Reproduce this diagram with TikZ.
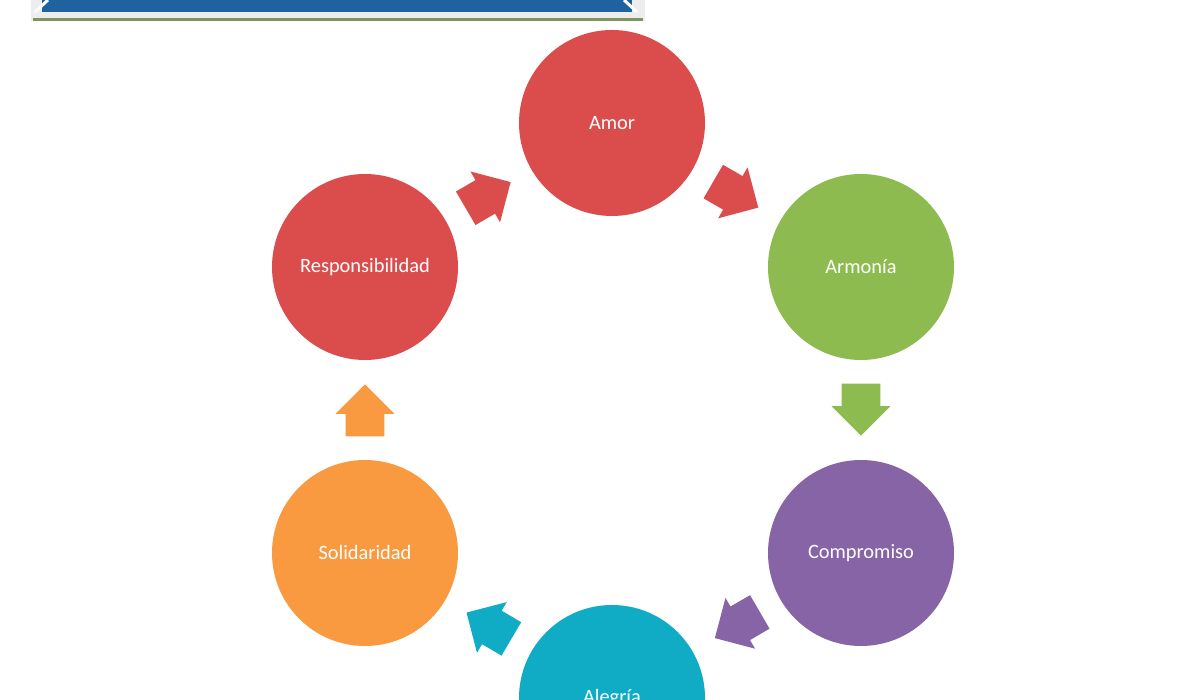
\documentclass[tikz,border=0pt]{standalone}
\usepackage{fontspec}
\setmainfont{Carlito}
\usetikzlibrary{shapes.arrows}
\definecolor{rojo}{RGB}{218,77,76}
\definecolor{verde}{RGB}{141,187,79}
\definecolor{morado}{RGB}{134,100,166}
\definecolor{celeste}{RGB}{16,172,198}
\definecolor{naranja}{RGB}{249,153,64}
\definecolor{azulbanda}{RGB}{30,98,160}
\definecolor{verdemarco}{RGB}{128,148,96}

\begin{document}
\begin{tikzpicture}[x=0.5pt, y=0.5pt,
    valor/.style={circle, minimum size=93pt, inner sep=0pt, text=white,
        font=\fontsize{10.2}{12}\selectfont},
    flecha/.style={single arrow, sloped, allow upside down, anchor=tail, pos=0.23,
        inner xsep=0pt, inner ysep=9.5pt, minimum height=26pt,
        single arrow head extend=5pt, single arrow head indent=0pt}]
            \useasboundingbox (0,0) rectangle (1200,700);
            \clip (0,0) rectangle (1200,700);
            \fill[white] (0,0) rectangle (1200,700);
            % Banner cut at the top
            \fill[black!7] (31,679) rectangle (645,700);
            \fill[verdemarco] (33,679) rectangle (643,681.5);
            \fill[azulbanda] (42,688) rectangle (632,700);
            \draw[white, line width=1.5pt] (35,688) -- (48,700);
            \draw[white, line width=1.5pt] (624,700) -- (637,688);
            % Circles
            \node[valor, fill=rojo] (amor) at (612,577) {Amor};
            \node[valor, fill=verde] (armonia) at (861,433) {Armonía};
            \node[valor, fill=morado] (compromiso) at (861,147) {Compromiso};
            \node[valor, fill=celeste] (alegria) at (612,2) {Alegría};
            \node[valor, fill=naranja] (solidaridad) at (365,147) {Solidaridad};
            \node[valor, fill=rojo] (responsabilidad) at (365,433) {Responsibilidad};
            % Block arrows between neighbours
            \path (responsabilidad) -- node[flecha, fill=rojo] {} (amor);
            \path (amor) -- node[flecha, fill=rojo] {} (armonia);
            \path (armonia) -- node[flecha, fill=verde] {} (compromiso);
            \path (compromiso) -- node[flecha, fill=morado] {} (alegria);
            \path (alegria) -- node[flecha, fill=celeste] {} (solidaridad);
            \path (solidaridad) -- node[flecha, fill=naranja] {} (responsabilidad);
        \end{tikzpicture}
\end{document}
